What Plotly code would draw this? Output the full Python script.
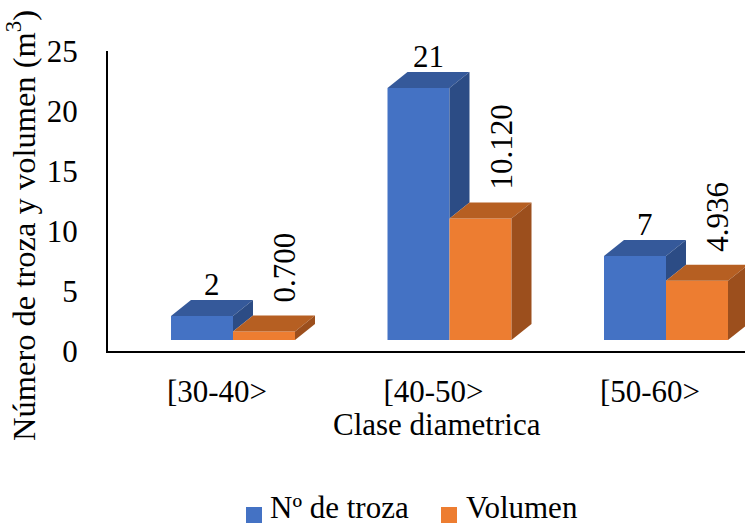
import plotly.graph_objects as go

# ---- data -------------------------------------------------------------
categories = ["[30-40>", "[40-50>", "[50-60>"]
n_troza = [2, 21, 7]
volumen = [0.700, 10.120, 4.936]
volumen_text = ["0.700", "10.120", "4.936"]
y_ticks = [0, 5, 10, 15, 20, 25]
series_names = ["Nº de troza", "Volumen"]

# ---- layout constants ---------------------------------------------------
W, H = 745, 526
M_L, M_R, M_T, M_B = 108, 0, 51, 175
plot_w = W - M_L - M_R
plot_h = H - M_T - M_B

x_range = [-0.5035, 2.4388]
y_range = [0, 25]
px_x = plot_w / (x_range[1] - x_range[0])   # pixels per category unit
px_y = plot_h / (y_range[1] - y_range[0])   # pixels per value unit

lift = 11 / px_y          # front faces float slightly above the floor line
dx = 20 / px_x            # depth of the 3D extrusion (horizontal)
dy = 16 / px_y            # depth of the 3D extrusion (vertical)
bar_w = 62 / px_x
blue_off = -46 / px_x
orange_off = blue_off + bar_w

FONT = "Liberation Serif, Times New Roman, serif"
FS = 31

BLUE = dict(front="#4472C4", top="#35599A", side="#2C4C85")
ORANGE = dict(front="#ED7D31", top="#B65F22", side="#9C4F1D")

xs = list(range(len(categories)))

fig = go.Figure()
fig.add_trace(go.Bar(x=xs, y=n_troza, base=[lift] * len(xs), width=bar_w, offset=blue_off,
                     marker=dict(color=BLUE["front"], line=dict(width=0)),
                     name=series_names[0], showlegend=False))
fig.add_trace(go.Bar(x=xs, y=volumen, base=[lift] * len(xs), width=bar_w, offset=orange_off,
                     marker=dict(color=ORANGE["front"], line=dict(width=0)),
                     name=series_names[1], showlegend=False))


def poly(points):
    return "M " + " L ".join(f"{px},{py}" for px, py in points) + " Z"


shapes = []
annotations = []
for i, (vb, vo, vo_txt) in enumerate(zip(n_troza, volumen, volumen_text)):
    bx0 = i + blue_off
    bx1 = bx0 + bar_w
    ox0 = i + orange_off
    ox1 = ox0 + bar_w
    tb = lift + vb          # top of the blue front face
    to = lift + vo          # top of the orange front face
    lo = lift + min(vo, vb)

    # blue block: top face and the part of its side not hidden by the orange block
    shapes.append(dict(type="path", xref="x", yref="y", layer="above",
                       path=poly([(bx0, tb), (bx1, tb), (bx1 + dx, tb + dy), (bx0 + dx, tb + dy)]),
                       fillcolor=BLUE["top"], line=dict(width=0)))
    shapes.append(dict(type="path", xref="x", yref="y", layer="above",
                       path=poly([(bx1, lo), (bx1, tb), (bx1 + dx, tb + dy), (bx1 + dx, lo + dy)]),
                       fillcolor=BLUE["side"], line=dict(width=0)))
    # orange block: top face and side face
    shapes.append(dict(type="path", xref="x", yref="y", layer="above",
                       path=poly([(ox0, to), (ox1, to), (ox1 + dx, to + dy), (ox0 + dx, to + dy)]),
                       fillcolor=ORANGE["top"], line=dict(width=0)))
    shapes.append(dict(type="path", xref="x", yref="y", layer="above",
                       path=poly([(ox1, lift), (ox1, to), (ox1 + dx, to + dy), (ox1 + dx, lift + dy)]),
                       fillcolor=ORANGE["side"], line=dict(width=0)))

    # value labels
    annotations.append(dict(x=bx0 + bar_w / 2 + dx / 2, y=tb + dy, xref="x", yref="y",
                            text=str(vb), showarrow=False, xanchor="center", yanchor="bottom",
                            yshift=-4, font=dict(family=FONT, size=FS, color="black")))
    annotations.append(dict(x=ox0 + bar_w / 2 + dx / 2, y=to + dy, xref="x", yref="y",
                            text=vo_txt, showarrow=False, textangle=-90,
                            xanchor="center", yanchor="bottom", xshift=11, yshift=11,
                            font=dict(family=FONT, size=FS, color="black")))


def px_to_paper_x(px):
    return (px - M_L) / plot_w


def px_to_paper_y(py):
    return (M_T + plot_h - py) / plot_h


# axis titles
annotations.append(dict(x=px_to_paper_x(437), y=px_to_paper_y(424), xref="paper", yref="paper",
                        text="Clase diametrica", showarrow=False, xanchor="center", yanchor="middle",
                        font=dict(family=FONT, size=FS, color="black")))
annotations.append(dict(x=px_to_paper_x(22), y=px_to_paper_y(226), xref="paper", yref="paper",
                        text="Número de troza y volumen (m<sup>3</sup>)", showarrow=False,
                        textangle=-90, xanchor="center", yanchor="middle",
                        font=dict(family=FONT, size=32.5, color="black")))

# legend swatches and labels
legend_items = [(246, 268, BLUE["front"], series_names[0]),
                (441, 464, ORANGE["front"], series_names[1])]
for sx, tx, col, label in legend_items:
    shapes.append(dict(type="rect", xref="paper", yref="paper",
                       x0=px_to_paper_x(sx), x1=px_to_paper_x(sx + 16),
                       y0=px_to_paper_y(523), y1=px_to_paper_y(507),
                       fillcolor=col, line=dict(width=0)))
    annotations.append(dict(x=px_to_paper_x(tx), y=px_to_paper_y(507), xref="paper", yref="paper",
                            text=label, showarrow=False, xanchor="left", yanchor="middle",
                            font=dict(family=FONT, size=FS, color="black")))

fig.update_layout(
    width=W, height=H,
    margin=dict(l=M_L, r=M_R, t=M_T, b=M_B, pad=0),
    paper_bgcolor="white", plot_bgcolor="white",
    barmode="overlay",
    showlegend=False,
    font=dict(family=FONT, size=FS, color="black"),
    xaxis=dict(range=x_range, tickvals=xs, ticktext=categories, showline=True,
               linecolor="black", linewidth=2, showgrid=False, zeroline=False,
               ticks="", ticklabelstandoff=12,
               tickfont=dict(family=FONT, size=FS, color="black")),
    yaxis=dict(range=y_range, tickvals=y_ticks, showline=True, linecolor="black",
               linewidth=2, showgrid=False, zeroline=False, ticks="",
               ticklabelstandoff=22,
               tickfont=dict(family=FONT, size=FS, color="black")),
    shapes=shapes,
    annotations=annotations,
)

fig.write_html("out.html")
